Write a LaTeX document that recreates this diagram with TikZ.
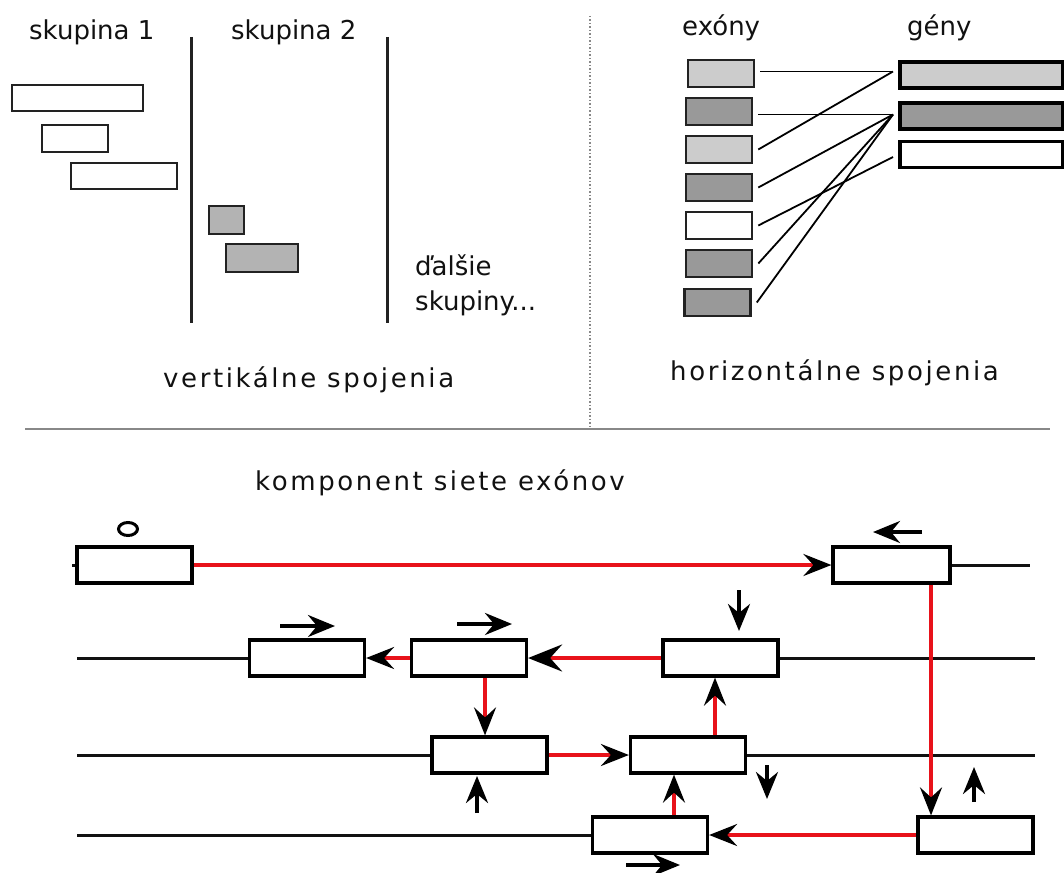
\documentclass[tikz,border=0pt]{standalone}
\usepackage{fontspec}
\setmainfont{DejaVu Sans}
\newfontfamily\spacedfont[LetterSpace=10]{DejaVu Sans}
\usetikzlibrary{arrows.meta,calc}
\definecolor{ink}{HTML}{111111}
\definecolor{boxline}{HTML}{222222}
\definecolor{lightfill}{HTML}{CCCCCC}
\definecolor{darkfill}{HTML}{999999}
\definecolor{midfill}{HTML}{B3B3B3}
\definecolor{linkred}{HTML}{E8121A}
\definecolor{rulegray}{HTML}{888888}
\begin{document}
\begin{tikzpicture}[x=1pt,y=-1pt,
  lbl/.style={font=\fontsize{26}{31}\selectfont, text=ink, inner sep=0pt, anchor=base west},
  wlbl/.style={lbl, font=\spacedfont\fontsize{26}{31}\selectfont},
  grpbox/.style={draw=boxline, line width=2.6pt, fill=white, inner sep=0pt},
  exbox/.style={draw=boxline, line width=2.6pt, inner sep=0pt, minimum width=66, minimum height=27},
  genebox/.style={draw=black, line width=3.6pt, inner sep=0pt, minimum width=163, minimum height=26},
  netbox/.style={draw=black, line width=3.2pt, fill=white, inner sep=0pt, minimum width=115, minimum height=36},
  divider/.style={draw=boxline, line width=3pt},
  hlink/.style={draw=black, line width=1.8pt},
  rowline/.style={draw=ink, line width=3pt},
  redlink/.style={draw=linkred, line width=3.6pt, -{Stealth[length=28pt,width=22pt,inset=10pt,color=black]}},
  bigredlink/.style={draw=linkred, line width=4pt, -{Stealth[length=34pt,width=27pt,inset=12pt,color=black]}},
  cue/.style={draw=black, line width=3.6pt, -{Stealth[length=27pt,width=22pt,inset=9pt]}}
]
\useasboundingbox (0,0) rectangle (1064,872);

% ---------- vertical joins ----------
\node[lbl] (s1) at (29,40) {skupina 1};
\node[lbl] (s2) at (231,40) {skupina 2};
\draw[divider] (191,37) -- (191,323);
\draw[divider] (387,37) -- (387,323);

\node[grpbox, minimum width=131, minimum height=26] (ga) at (77.5,98) {};
\node[grpbox, minimum width=66, minimum height=27] (gb) at (75,138.5) {};
\node[grpbox, minimum width=106, minimum height=26] (gc) at (124,176) {};
\node[grpbox, fill=midfill, minimum width=35, minimum height=28] (gd) at (226.5,220) {};
\node[grpbox, fill=midfill, minimum width=72, minimum height=28] (ge) at (262,258) {};

\node[lbl] (more1) at (415,275) {ďalšie};
\node[lbl] (more2) at (415,310) {skupiny...};
\node[wlbl] (vtitle) at (163,387) {vertikálne spojenia};

% ---------- section borders ----------
\draw[rulegray, line width=1.5pt, dotted] (590,16) -- (590,428);
\draw[rulegray, line width=2.4pt] (25,429) -- (1050,429);

% ---------- horizontal joins ----------
\node[lbl] (extitle) at (682,36) {exóny};
\node[lbl] (gntitle) at (907,36) {gény};

\node[exbox, fill=lightfill] (e1) at (721,73.5) {};
\node[exbox, fill=darkfill] (e2) at (719,111.5) {};
\node[exbox, fill=lightfill] (e3) at (719,149.5) {};
\node[exbox, fill=darkfill] (e4) at (719,187.5) {};
\node[exbox, fill=white] (e5) at (719,225.5) {};
\node[exbox, fill=darkfill] (e6) at (719,263.5) {};
\node[exbox, fill=darkfill] (e7) at (717.5,302.5) {};

\node[genebox, fill=lightfill] (g1) at (981.5,75) {};
\node[genebox, fill=darkfill] (g2) at (981.5,116) {};
\node[genebox, fill=white] (g3) at (981.5,154.5) {};

\coordinate (j1) at (893,71.5);
\coordinate (j2) at (893,114.5);
\coordinate (j3) at (893,157);

\draw[hlink] ($(e1.east |- j1)+(5,0)$) -- (j1);
\draw[hlink] ([xshift=5pt]e3.east) -- (j1);
\draw[hlink] ($(e2.east |- j2)+(5,0)$) -- (j2);
\draw[hlink] ([xshift=5pt]e4.east) -- (j2);
\draw[hlink] ([xshift=5pt]e6.east) -- (j2);
\draw[hlink] ([xshift=5pt]e7.east) -- (j2);
\draw[hlink] ([xshift=5pt]e5.east) -- (j3);

\node[wlbl] (htitle) at (670,380) {horizontálne spojenia};

% ---------- exon network component ----------
\node[wlbl] (ntitle) at (255,490) {komponent siete exónov};

\node[netbox] (r1a) at (134.5,565) {};
\node[netbox, minimum width=117] (r1b) at (891.5,565) {};
\node[netbox] (r2a) at (307,658) {};
\node[netbox] (r2b) at (469,658) {};
\node[netbox] (r2c) at (720.5,658) {};
\node[netbox] (r3a) at (489.5,755) {};
\node[netbox] (r3b) at (688,755) {};
\node[netbox] (r4a) at (650,835) {};
\node[netbox] (r4b) at (975.5,835) {};

% track lines
\coordinate (t1s) at (72,565);
\coordinate (t1e) at (1030,565);
\coordinate (t2s) at (77,658);
\coordinate (t2e) at (1035,658);
\coordinate (t3s) at (77,755);
\coordinate (t3e) at (1035,755);
\coordinate (t4s) at (77,835);
\draw[rowline] (t1s) -- (r1a.west);
\draw[rowline] (r1b.east) -- (t1e);
\draw[rowline] (t2s) -- (r2a.west);
\draw[rowline] (r2c.east) -- (t2e);
\draw[rowline] (t3s) -- (r3a.west);
\draw[rowline] (r3b.east) -- (t3e);
\draw[rowline] (t4s) -- (r4a.west);

% start marker
\draw[black, line width=3pt] (128,529) ellipse [x radius=9.5, y radius=6.5];

% red path through the component
\draw[redlink] (r1a.east) -- (r1b.west);
\draw[redlink] ([xshift=39.5pt]r1b.south) -- ([xshift=39.5pt]r1b.south |- r4b.north);
\draw[redlink] (r4b.west) -- (r4a.east);
\draw[redlink] ([xshift=24pt]r4a.north) -- ([xshift=24pt]r4a.north |- r3b.south);
\draw[redlink] (r3a.east) -- (r3b.west);
\draw[redlink] ([xshift=27pt]r3b.north) -- ([xshift=27pt]r3b.north |- r2c.south);
\draw[bigredlink] (r2c.west) -- (r2b.east);
\draw[redlink] ([xshift=16pt]r2b.south) -- ([xshift=16pt]r2b.south |- r3a.north);
\draw[redlink] (r2b.west) -- (r2a.east);

% direction cues
\coordinate (c1s) at (922,532); \coordinate (c1e) at (873,532);
\coordinate (c2s) at (280,626); \coordinate (c2e) at (335,626);
\coordinate (c3s) at (457,624); \coordinate (c3e) at (512,624);
\coordinate (c4s) at (739,590); \coordinate (c4e) at (739,631);
\coordinate (c5s) at (477,813); \coordinate (c5e) at (477,776);
\coordinate (c6s) at (767,765); \coordinate (c6e) at (767,799);
\coordinate (c7s) at (974,802); \coordinate (c7e) at (974,767);
\coordinate (c8s) at (626,865); \coordinate (c8e) at (680,865);
\draw[cue] (c1s) -- (c1e);
\draw[cue] (c2s) -- (c2e);
\draw[cue] (c3s) -- (c3e);
\draw[cue] (c4s) -- (c4e);
\draw[cue] (c5s) -- (c5e);
\draw[cue] (c6s) -- (c6e);
\draw[cue] (c7s) -- (c7e);
\draw[cue] (c8s) -- (c8e);
\end{tikzpicture}
\end{document}
